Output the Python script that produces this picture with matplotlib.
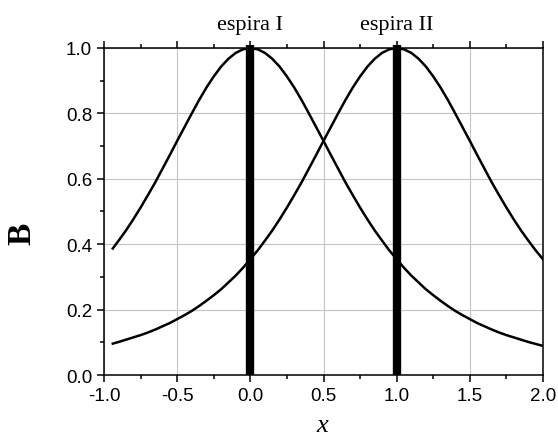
import matplotlib
matplotlib.use('Agg')
import matplotlib.pyplot as plt
from matplotlib.ticker import MultipleLocator

# posições em x onde os valores foram lidos (passo 0.05)
x_vals = [-0.94] + [round(-0.9 + 0.05 * i, 2) for i in range(59)]

# campo B, espira I (centrada em x=0)
b_espira1 = [0.387, 0.411, 0.442, 0.476, 0.512, 0.550, 0.589, 0.631, 0.673, 0.716,
             0.758, 0.800, 0.841, 0.879, 0.913, 0.943, 0.967, 0.985, 0.996,
             1.000, 0.996, 0.985, 0.967, 0.943, 0.913, 0.879, 0.841, 0.800, 0.758,
             0.716, 0.673, 0.631, 0.589, 0.550, 0.512, 0.476, 0.442, 0.411, 0.381,
             0.354, 0.328, 0.304, 0.283, 0.262, 0.244, 0.227, 0.211, 0.196, 0.183,
             0.171, 0.159, 0.149, 0.139, 0.130, 0.122, 0.115, 0.108, 0.101, 0.095,
             0.089]
# espira II (centrada em x=1)
b_espira2 = [0.096, 0.101, 0.108, 0.115, 0.122, 0.130, 0.139, 0.149, 0.159, 0.171,
             0.183, 0.196, 0.211, 0.227, 0.244, 0.262, 0.283, 0.304, 0.328,
             0.354, 0.381, 0.411, 0.442, 0.476, 0.512, 0.550, 0.589, 0.631, 0.673,
             0.716, 0.758, 0.800, 0.841, 0.879, 0.913, 0.943, 0.967, 0.985, 0.996,
             1.000, 0.996, 0.985, 0.967, 0.943, 0.913, 0.879, 0.841, 0.800, 0.758,
             0.716, 0.673, 0.631, 0.589, 0.550, 0.512, 0.476, 0.442, 0.411, 0.381,
             0.354]
espiras_x = [0.0, 1.0]
espiras_nome = ['espira I', 'espira II']

serif = 'Liberation Serif'
sans = 'Liberation Sans'

fig = plt.figure(figsize=(5.58, 4.39), dpi=100)
ax = fig.add_axes([0.1864, 0.1435, 0.7867, 0.7449])

ax.grid(True, which='major', color='#c4c4c4', lw=0.8, zorder=0)
ax.plot(x_vals, b_espira1, color='black', lw=1.8, zorder=3)
ax.plot(x_vals, b_espira2, color='black', lw=1.8, zorder=3)
ax.vlines(espiras_x, 0, 1.01, colors='black', lw=6, zorder=4, clip_on=False)

for xe, nome in zip(espiras_x, espiras_nome):
    ax.annotate(nome, (xe, 1.0), xytext=(0, 14), textcoords='offset points',
                ha='center', va='baseline', fontsize=16, family=serif,
                annotation_clip=False)

ax.set_xlim(-1.0, 2.0)
ax.set_ylim(0.0, 1.0)
ax.xaxis.set_major_locator(MultipleLocator(0.5))
ax.xaxis.set_minor_locator(MultipleLocator(0.25))
ax.yaxis.set_major_locator(MultipleLocator(0.2))
ax.yaxis.set_minor_locator(MultipleLocator(0.1))
ax.xaxis.set_major_formatter(plt.FuncFormatter(lambda v, p: f'{v:.1f}'))
ax.yaxis.set_major_formatter(plt.FuncFormatter(lambda v, p: f'{v:.1f}'))

ax.tick_params(which='both', direction='out', top=True, right=False, width=1.1)
ax.tick_params(which='major', length=5)
ax.tick_params(which='minor', length=3)
for lab in ax.get_xticklabels() + ax.get_yticklabels():
    lab.set_family(sans)
    lab.set_fontsize(13.5)

for s in ax.spines.values():
    s.set_linewidth(1.1)

# rótulos dos eixos
fig.text(22 / 558, 1 - 234 / 439, 'B', family=serif, fontsize=24, fontweight='bold',
         rotation=90, ha='center', va='center')
fig.text(322 / 558, 1 - 426 / 439, 'x', family=serif, style='italic', fontsize=19,
         ha='center', va='center')

plt.savefig('out.png', dpi=100)
